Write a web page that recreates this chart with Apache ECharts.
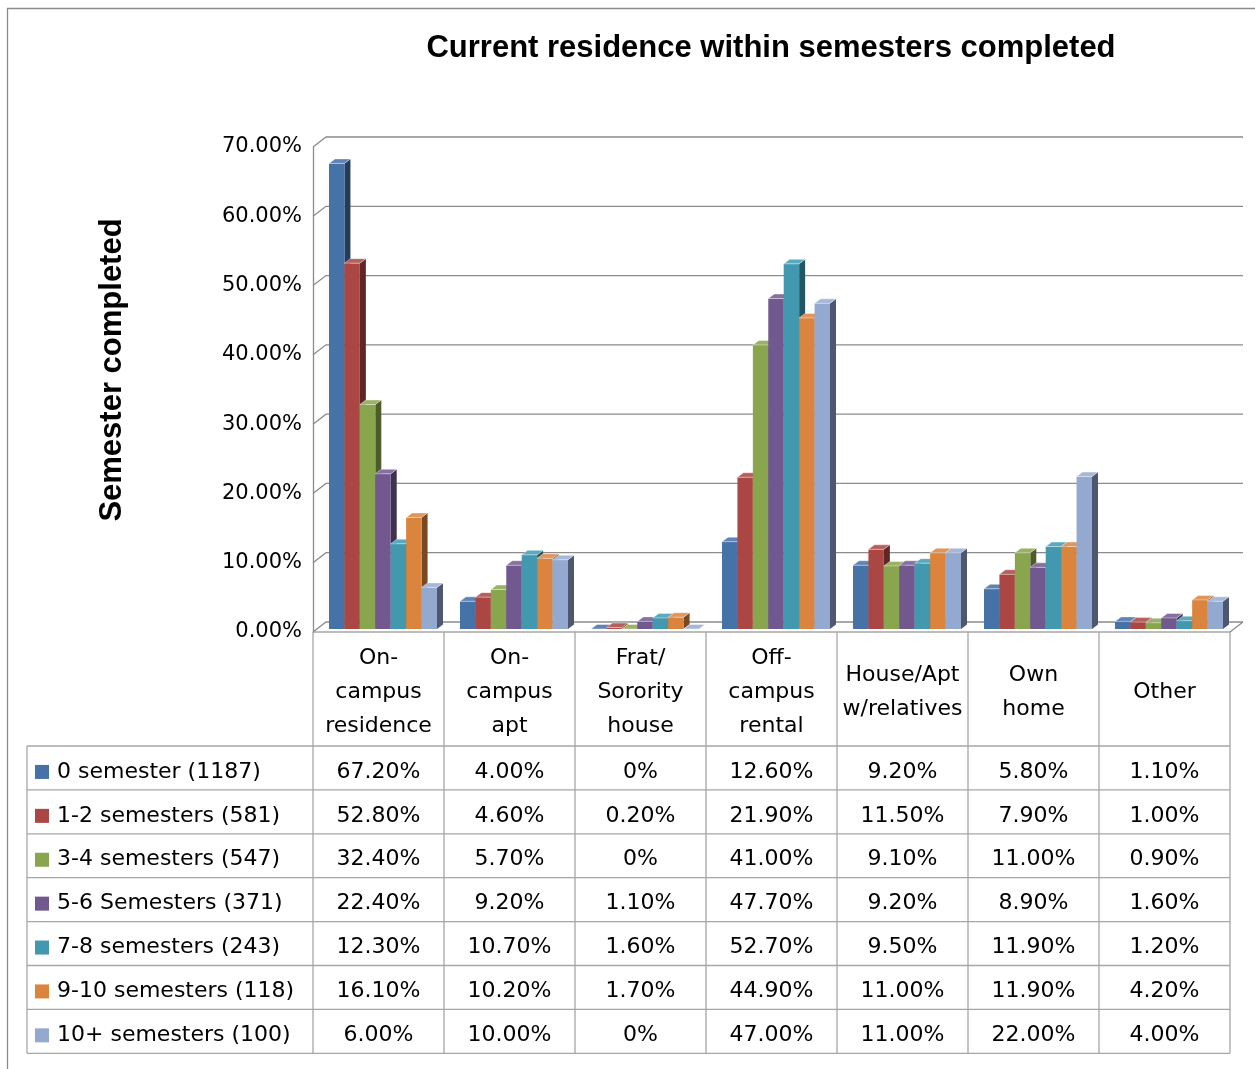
<!DOCTYPE html>
<html>
<head>
<meta charset="utf-8">
<title>Current residence within semesters completed</title>
<script src="https://cdn.jsdelivr.net/npm/echarts@6/dist/echarts.min.js"></script>
<style>
  html, body { margin: 0; padding: 0; background: #fff; }
  #chart { width: 1255px; height: 1069px; }
</style>
</head>
<body>
<div id="chart"></div>
<script>
// Residence categories (x axis) and their multi-line table headers
const categories = ['On-campus residence', 'On-campus apt', 'Frat/Sorority house', 'Off-campus rental', 'House/Apt w/relatives', 'Own home', 'Other'];
const headerLabels = ['On-\ncampus\nresidence', 'On-\ncampus\napt', 'Frat/\nSorority\nhouse', 'Off-\ncampus\nrental', 'House/Apt\nw/relatives', 'Own\nhome', 'Other'];

// Semester groups (series)
const seriesNames = ['0 semester (1187)', '1-2 semesters (581)', '3-4 semesters (547)', '5-6 Semesters (371)', '7-8 semesters (243)', '9-10 semesters (118)', '10+ semesters (100)'];

// Percent of each group living in each residence type
const sem0    = [67.2, 4.0, 0.0, 12.6, 9.2, 5.8, 1.1];
const sem1to2 = [52.8, 4.6, 0.2, 21.9, 11.5, 7.9, 1.0];
const sem3to4 = [32.4, 5.7, 0.0, 41.0, 9.1, 11.0, 0.9];
const sem5to6 = [22.4, 9.2, 1.1, 47.7, 9.2, 8.9, 1.6];
const sem7to8 = [12.3, 10.7, 1.6, 52.7, 9.5, 11.9, 1.2];
const sem9to10 = [16.1, 10.2, 1.7, 44.9, 11.0, 11.9, 4.2];
const sem10plus = [6.0, 10.0, 0.0, 47.0, 11.0, 22.0, 4.0];
const seriesValues = [sem0, sem1to2, sem3to4, sem5to6, sem7to8, sem9to10, sem10plus];

// Y axis ticks
const yTicks = [0, 10, 20, 30, 40, 50, 60, 70];

// Bar face colours: front, side (shaded), top (lit)
const faceColors = ['#4572A7', '#AA4643', '#89A54E', '#71588F', '#4198AF', '#DB843D', '#93A9CF'];
const sideColors = ['#253D5B', '#5E2624', '#4C5C2B', '#3F3150', '#245562', '#7A4922', '#4D5870'];
const topColors  = ['#5F84B4', '#B65E5B', '#9AB264', '#8570A0', '#5BA9BE', '#E0955A', '#A6B8D8'];

// 3D projection offsets (pixels)
const WALL_DX = 13, WALL_DY = -10;     // depth of the back wall
const FRONT_DX = 4.5, FRONT_DY = -3;   // bar front plane relative to the floor edge
const BAR_DX = 6, BAR_DY = -4.5;       // bar depth
const GROUP_FRAC = 108 / 131;          // share of a category band taken by the bar group

const FONT = '"DejaVu Sans", Verdana, sans-serif';
const TABLE_FONT = '22px ' + FONT;
const GRID = { left: 313, top: 147, width: 917, height: 485 };

const fmtPct = v => v === 0 ? '0%' : v.toFixed(2) + '%';

const chart = echarts.init(document.getElementById('chart'), null, { renderer: 'canvas' });

// Back wall gridlines and floor drawn in perspective
const gridSeries = {
  type: 'custom',
  silent: true,
  z: 1,
  data: yTicks.map(t => [0, t]),
  renderItem: function (params, api) {
    const cs = params.coordSys;
    const y = api.coord([0, api.value(1)])[1];
    const children = [{
      type: 'polyline',
      shape: { points: [[cs.x, y], [cs.x + WALL_DX, y + WALL_DY], [cs.x + cs.width + WALL_DX, y + WALL_DY]] },
      style: { stroke: '#8c8c8c', lineWidth: 1.3, fill: null }
    }];
    if (api.value(1) === 0) {
      children.push({
        type: 'polyline',
        shape: { points: [[cs.x + cs.width, y], [cs.x + cs.width + WALL_DX, y + WALL_DY]] },
        style: { stroke: '#8c8c8c', lineWidth: 1.3, fill: null }
      });
    }
    return { type: 'group', children: children };
  }
};

function barSeries(k) {
  return {
    type: 'custom',
    name: seriesNames[k],
    z: 2,
    data: seriesValues[k].map((v, i) => [i, v]),
    encode: { x: 0, y: 1 },
    renderItem: function (params, api) {
      const cat = api.value(0), v = api.value(1);
      const band = api.size([1, 0])[0];
      const w = band * GROUP_FRAC / seriesValues.length;
      const base = api.coord([cat, 0]);
      const top = api.coord([cat, v]);
      const x = base[0] - band * GROUP_FRAC / 2 + k * w + FRONT_DX;
      const yb = base[1] + FRONT_DY;
      const yt = top[1] + FRONT_DY;
      return {
        type: 'group',
        children: [
          { type: 'polygon', shape: { points: [[x + w, yt], [x + w + BAR_DX, yt + BAR_DY], [x + w + BAR_DX, yb + BAR_DY], [x + w, yb]] },
            style: { fill: sideColors[k] } },
          { type: 'rect', shape: { x: x, y: yt, width: w, height: yb - yt }, style: { fill: faceColors[k] } },
          { type: 'polygon', shape: { points: [[x, yt], [x + w, yt], [x + w + BAR_DX, yt + BAR_DY], [x + BAR_DX, yt + BAR_DY]] },
            style: { fill: topColors[k], stroke: 'rgba(255,255,255,0.5)', lineWidth: 0.8 } }
        ]
      };
    }
  };
}

chart.setOption({
  animation: false,
  backgroundColor: '#fff',
  title: {
    text: 'Current residence within semesters completed',
    left: 766, top: 28, textAlign: 'center',
    textStyle: { fontFamily: '"Liberation Sans", Arial, sans-serif', fontWeight: 'bold', fontSize: 31, color: '#000' }
  },
  grid: GRID,
  xAxis: {
    type: 'category',
    data: categories,
    axisLine: { show: false },
    axisTick: { show: false },
    axisLabel: { show: false },
    splitLine: { show: false }
  },
  yAxis: {
    type: 'value',
    min: 0, max: 70, interval: 10,
    axisLine: { show: true, lineStyle: { color: '#8c8c8c', width: 1.3 } },
    axisTick: { show: false },
    splitLine: { show: false },
    axisLabel: { margin: 11, color: '#000', fontFamily: FONT, fontSize: 21, padding: [5, 0, 0, 0], formatter: v => v.toFixed(2) + '%' }
  },
  series: [gridSeries].concat(seriesValues.map((_, k) => barSeries(k)))
});

// Data table under the plot, laid out from the category axis
function buildTable() {
  const c0 = chart.convertToPixel({ xAxisIndex: 0 }, 0);
  const c1 = chart.convertToPixel({ xAxisIndex: 0 }, 1);
  const band = c1 - c0;
  const left = c0 - band / 2;
  const right = left + band * categories.length;
  const headTop = GRID.top + GRID.height;
  const rowTop = 746, rowH = 43.9;
  const tableLeft = 27;
  const bottom = rowTop + rowH * seriesNames.length;
  const lineStyle = { stroke: '#a6a6a6', lineWidth: 1.3 };
  const els = [];

  // outer frame of the chart area
  els.push({ type: 'rect', shape: { x: 7.5, y: 8.5, width: 1300, height: 1100 }, style: { fill: null, stroke: '#8c8c8c', lineWidth: 1.3 }, silent: true });

  // y axis title
  els.push({ type: 'text', x: 112, y: 370, rotation: Math.PI / 2,
    style: { text: 'Semester completed', font: 'bold 31px "Liberation Sans", Arial, sans-serif', fill: '#000', align: 'center', verticalAlign: 'middle' } });

  // grid lines
  els.push({ type: 'line', shape: { x1: left, y1: headTop, x2: right, y2: headTop }, style: lineStyle });
  for (let r = 0; r <= seriesNames.length; r++) {
    const y = rowTop + r * rowH;
    els.push({ type: 'line', shape: { x1: tableLeft, y1: y, x2: right, y2: y }, style: lineStyle });
  }
  els.push({ type: 'line', shape: { x1: tableLeft, y1: rowTop, x2: tableLeft, y2: bottom }, style: lineStyle });
  for (let c = 0; c <= categories.length; c++) {
    const x = left + c * band;
    els.push({ type: 'line', shape: { x1: x, y1: headTop, x2: x, y2: bottom }, style: lineStyle });
  }

  // header labels
  headerLabels.forEach((lab, i) => {
    els.push({ type: 'text', x: left + (i + 0.5) * band, y: (headTop + rowTop) / 2 + 3,
      style: { text: lab, font: TABLE_FONT, fill: '#000', align: 'center', verticalAlign: 'middle', lineHeight: 34 } });
  });

  // rows: legend key, series name, values
  seriesNames.forEach((name, k) => {
    const yc = rowTop + (k + 0.5) * rowH + 4;
    els.push({ type: 'rect', shape: { x: 35, y: yc - 7, width: 14, height: 14 }, style: { fill: faceColors[k] } });
    els.push({ type: 'text', x: 57, y: yc,
      style: { text: name, font: TABLE_FONT, fill: '#000', align: 'left', verticalAlign: 'middle' } });
    seriesValues[k].forEach((v, i) => {
      els.push({ type: 'text', x: left + (i + 0.5) * band, y: yc,
        style: { text: fmtPct(v), font: TABLE_FONT, fill: '#000', align: 'center', verticalAlign: 'middle' } });
    });
  });

  chart.setOption({ graphic: { elements: els } });
}
buildTable();
</script>
</body>
</html>
